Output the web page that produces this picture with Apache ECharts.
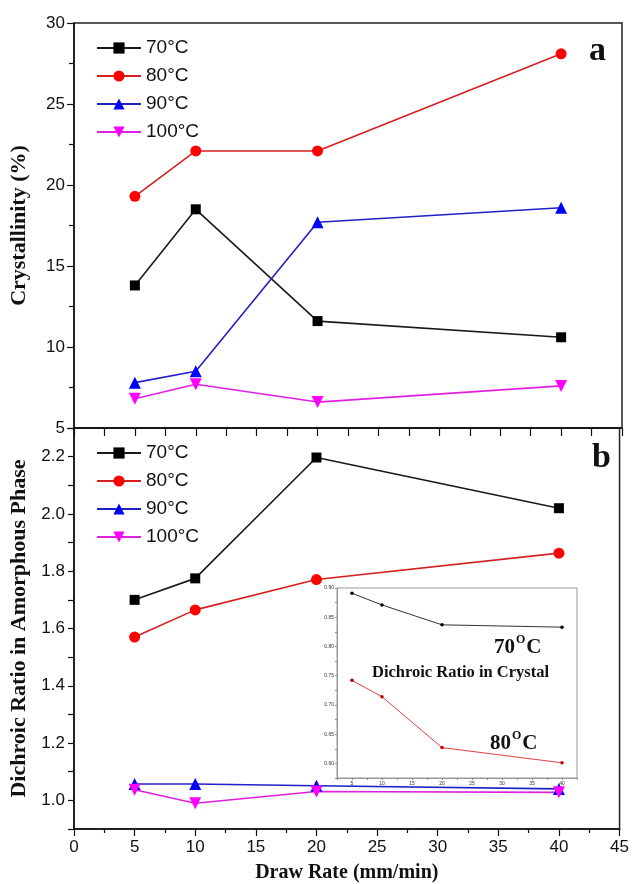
<!DOCTYPE html>
<html>
<head>
<meta charset="utf-8">
<script src="https://cdn.jsdelivr.net/npm/echarts@6/dist/echarts.min.js"></script>
<style>
html,body{margin:0;padding:0;background:#fff;}
#chart{width:632px;height:884px;}
</style>
</head>
<body>
<div id="chart"></div>
<script>
// ---- data ----
const drawRate = [5, 10, 20, 40];
const seriesNames = ['70°C', '80°C', '90°C', '100°C'];
const cryst70 = [13.8, 18.5, 11.6, 10.6];
const cryst80 = [19.3, 22.1, 22.1, 28.1];
const cryst90 = [7.8, 8.5, 17.7, 18.6];
const cryst100 = [6.8, 7.7, 6.6, 7.6];
const dich70 = [1.70, 1.775, 2.197, 2.02];
const dich80 = [1.57, 1.665, 1.771, 1.863];
const dich90 = [1.057, 1.057, 1.051, 1.040];
const dich100 = [1.037, 0.99, 1.031, 1.028];
const crystDich70 = [0.891, 0.871, 0.837, 0.833];
const crystDich80 = [0.742, 0.714, 0.627, 0.601];

const zip = ys => drawRate.map((x, i) => [x, ys[i]]);

const symbols = ['rect', 'circle', 'triangle', 'path://M0,0L2,0L1,1.732Z'];
const symSizes = [10, 11, 12, 12];
const markerColors = ['#000000', '#ff0000', '#0000ff', '#ff00ff'];
const lineColors = ['#1a1a1a', '#d42020', '#2020c8', '#e020e0'];

const sans = 'Liberation Sans, Arial, sans-serif';
const serif = 'Liberation Serif, Times New Roman, serif';

function mainSeries(name, idx, ys, axisIdx) {
  return {
    name: name, type: 'line',
    xAxisIndex: axisIdx, yAxisIndex: axisIdx,
    data: zip(ys),
    symbol: symbols[idx], symbolSize: symSizes[idx],
    itemStyle: { color: markerColors[idx] },
    lineStyle: { color: lineColors[idx], width: 1.6 },
    showSymbol: true, animation: false, z: 3
  };
}

const axisLineStyle = { show: true, lineStyle: { color: '#111', width: 1.5 } };

const chart = echarts.init(document.getElementById('chart'), null, { renderer: 'canvas' });

const legendBase = {
  orient: 'vertical', left: 91, itemWidth: 44, itemHeight: 14, itemGap: 8,
  data: seriesNames,
  textStyle: { fontFamily: sans, fontSize: 19, color: '#111', lineHeight: 20 }
};

const insetSup = {
  n: { font: 'bold 21px ' + serif, fill: '#111', lineHeight: 24, verticalAlign: 'bottom' },
  s: { font: 'bold 12px ' + serif, fill: '#111', lineHeight: 24, verticalAlign: 'top', padding: [0, 1, 0, 1] }
};

const option = {
  backgroundColor: '#fff',
  animation: false,
  grid: [
    { left: 72, right: 10, top: 23, height: 405, show: true, borderColor: '#222', borderWidth: 1.5 },
    { left: 72, right: 10, top: 428, height: 407, show: true, borderColor: '#222', borderWidth: 1.5 },
    { left: 337, top: 588, width: 240, height: 190, show: true, borderColor: '#999', borderWidth: 1, backgroundColor: '#fff', z: 5 }
  ],
  legend: [
    Object.assign({ top: 33 }, legendBase),
    Object.assign({ top: 438 }, legendBase)
  ],
  xAxis: [
    { gridIndex: 0, type: 'value', min: 0, max: 45, interval: 2.5,
      axisLine: axisLineStyle, axisLabel: { show: false },
      axisTick: { show: true, inside: false, length: 8, lineStyle: { color: '#111', width: 1.2 } },
      splitLine: { show: false } },
    { gridIndex: 1, type: 'value', min: 0, max: 45, interval: 5,
      axisLine: axisLineStyle,
      axisLabel: { fontFamily: sans, fontSize: 17, color: '#111', margin: 10 },
      axisTick: { show: true, inside: false, length: 7, lineStyle: { color: '#111', width: 1.2 } },
      minorTick: { show: true, splitNumber: 2, length: 4, lineStyle: { color: '#111', width: 1.2 } },
      splitLine: { show: false },
      name: 'Draw Rate (mm/min)', nameLocation: 'middle', nameGap: 34,
      nameTextStyle: { fontFamily: serif, fontWeight: 'bold', fontSize: 20, color: '#111' } },
    { gridIndex: 2, type: 'value', min: 2.5, max: 42.5, interval: 2.5,
      axisLine: { show: true, lineStyle: { color: '#999', width: 1 } },
      axisLabel: { fontFamily: sans, fontSize: 5, color: '#333', margin: 3,
        formatter: v => (Math.abs(v / 5 - Math.round(v / 5)) < 1e-6 && v < 42) ? String(Math.round(v)) : '' },
      axisTick: { show: true, inside: false, length: 2, lineStyle: { color: '#777', width: 0.8 } },
      splitLine: { show: false }, z: 6 }
  ],
  yAxis: [
    { gridIndex: 0, type: 'value', min: 5, max: 30, interval: 5,
      axisLine: axisLineStyle,
      axisLabel: { fontFamily: sans, fontSize: 17, color: '#111', margin: 9 },
      axisTick: { show: true, inside: false, length: 7, lineStyle: { color: '#111', width: 1.2 } },
      minorTick: { show: true, splitNumber: 2, length: 5, lineStyle: { color: '#111', width: 1.2 } },
      splitLine: { show: false },
      name: 'Crystallinity (%)', nameLocation: 'middle', nameGap: 44,
      nameTextStyle: { fontFamily: serif, fontWeight: 'bold', fontSize: 22, color: '#111' } },
    { gridIndex: 1, type: 'value', min: 0.9, max: 2.3, interval: 0.1,
      axisLine: axisLineStyle,
      axisLabel: { fontFamily: sans, fontSize: 17, color: '#111', margin: 9,
        formatter: v => (Math.round(v * 10) % 2 === 0) ? v.toFixed(1) : '' },
      axisTick: { show: true, inside: false, length: 6, lineStyle: { color: '#111', width: 1.2 } },
      splitLine: { show: false },
      name: 'Dichroic Ratio in Amorphous Phase', nameLocation: 'middle', nameGap: 44,
      nameTextStyle: { fontFamily: serif, fontWeight: 'bold', fontSize: 22, color: '#111' } },
    { gridIndex: 2, type: 'value', min: 0.575, max: 0.9, interval: 0.025,
      axisLine: { show: true, lineStyle: { color: '#999', width: 1 } },
      axisLabel: { fontFamily: sans, fontSize: 5, color: '#333', margin: 3,
        formatter: v => (Math.abs(v * 20 - Math.round(v * 20)) < 1e-6) ? v.toFixed(2) : '' },
      axisTick: { show: true, inside: false, length: 2, lineStyle: { color: '#777', width: 0.8 } },
      splitLine: { show: false }, z: 6 }
  ],
  series: [
    mainSeries(seriesNames[0], 0, cryst70, 0),
    mainSeries(seriesNames[1], 1, cryst80, 0),
    mainSeries(seriesNames[2], 2, cryst90, 0),
    mainSeries(seriesNames[3], 3, cryst100, 0),
    mainSeries(seriesNames[0], 0, dich70, 1),
    mainSeries(seriesNames[1], 1, dich80, 1),
    mainSeries(seriesNames[2], 2, dich90, 1),
    mainSeries(seriesNames[3], 3, dich100, 1),
    { name: 'inset70', type: 'line', xAxisIndex: 2, yAxisIndex: 2, data: zip(crystDich70),
      symbol: 'circle', symbolSize: 3.5, itemStyle: { color: '#000' },
      lineStyle: { color: '#333', width: 1 }, z: 7 },
    { name: 'inset80', type: 'line', xAxisIndex: 2, yAxisIndex: 2, data: zip(crystDich80),
      symbol: 'circle', symbolSize: 3.5, itemStyle: { color: '#c00000' },
      lineStyle: { color: '#e04040', width: 1 }, z: 7 }
  ],
  graphic: [
    { type: 'text', left: 589, top: 34, z: 20,
      style: { text: 'a', font: 'bold 34px ' + serif, fill: '#111' } },
    { type: 'text', left: 592, top: 441, z: 20,
      style: { text: 'b', font: 'bold 34px ' + serif, fill: '#111' } },
    { type: 'text', left: 494, top: 634, z: 20,
      style: { text: '{n|70}{s|O}{n|C}', fill: '#111', rich: insetSup } },
    { type: 'text', left: 372, top: 664, z: 20,
      style: { text: 'Dichroic Ratio in Crystal', font: 'bold 16.5px ' + serif, fill: '#111' } },
    { type: 'text', left: 490, top: 730, z: 20,
      style: { text: '{n|80}{s|O}{n|C}', fill: '#111', rich: insetSup } }
  ]
};
chart.setOption(option);
</script>
</body>
</html>
